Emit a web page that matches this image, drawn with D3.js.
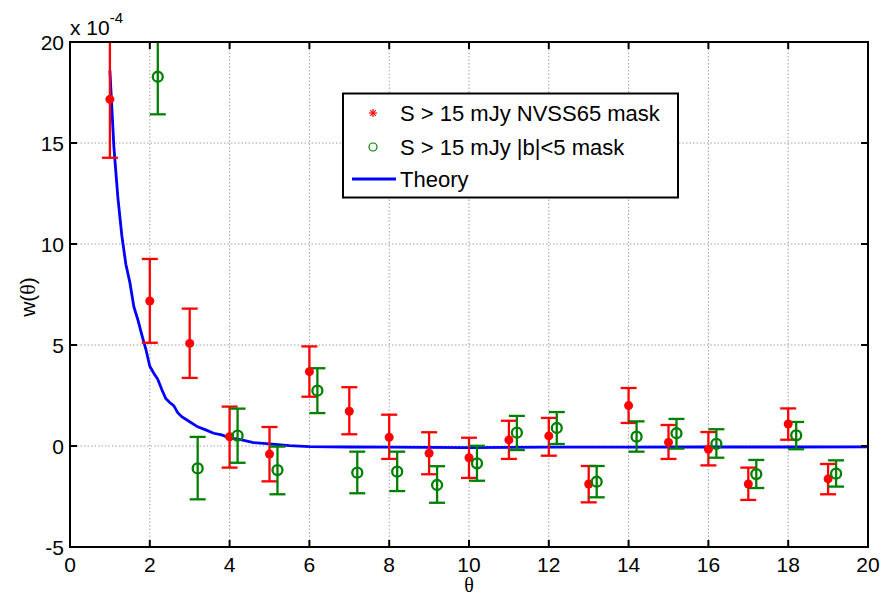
<!DOCTYPE html>
<html><head><meta charset="utf-8">
<script src="https://cdn.jsdelivr.net/npm/d3@7/dist/d3.min.js"></script>
<style>body{margin:0;background:#fff}svg{display:block}</style>
</head><body>
<svg id="c" width="883" height="598"></svg>
<script>
// Data (units of 1e-4)
const xTicks = [0,2,4,6,8,10,12,14,16,18,20];
const yTicks = [-5,0,5,10,15,20];
const redTheta = [1,2,3,4,5,6,7,8,9,10,11,12,13,14,15,16,17,18,19];
const redVal = [17.16,7.18,5.08,0.46,-0.40,3.68,1.72,0.43,-0.36,-0.58,0.30,0.50,-1.88,2.00,0.18,-0.16,-1.88,1.09,-1.63];
const redLo  = [14.27,5.11,3.37,-1.07,-1.75,2.44,0.58,-0.64,-1.40,-1.58,-0.64,-0.48,-2.79,1.14,-0.64,-0.96,-2.67,0.31,-2.39];
const redHi  = [20.05,9.26,6.80,1.95,0.94,4.93,2.91,1.55,0.68,0.41,1.25,1.39,-0.99,2.87,1.04,0.69,-1.07,1.86,-0.89];
const greenTheta = [2.2,3.2,4.2,5.2,6.2,7.2,8.2,9.2,10.2,11.2,12.2,13.2,14.2,15.2,16.2,17.2,18.2,19.2];
const greenVal = [18.28,-1.11,0.51,-1.19,2.74,-1.32,-1.27,-1.93,-0.86,0.66,0.89,-1.77,0.46,0.63,0.11,-1.39,0.53,-1.37];
const greenLo  = [16.42,-2.64,-0.83,-2.39,1.63,-2.34,-2.23,-2.81,-1.72,-0.20,0.10,-2.54,-0.28,-0.13,-0.58,-2.08,-0.16,-2.01];
const greenHi  = [20.14,0.45,1.85,-0.03,3.85,-0.28,-0.28,-1.00,0.01,1.49,1.68,-0.99,1.22,1.34,0.83,-0.69,1.19,-0.71];
const theoryTheta = [1.0,1.1,1.2,1.3,1.4,1.5,1.6,1.7,1.8,1.9,2.0,2.1,2.2,2.3,2.4,2.5,2.6,2.7,2.8,3.0,3.2,3.4,3.6,3.8,4.0,4.3,4.6,5.0,5.5,6,7,8,9,10,12,14,16,18,20];
const theoryVal = [18.6,14.8,12.3,10.4,9.0,8.1,6.9,6.25,5.5,4.8,3.95,3.6,3.3,2.8,2.35,2.15,2.0,1.65,1.45,1.2,0.95,0.8,0.63,0.55,0.4,0.3,0.17,0.1,0.02,-0.03,-0.05,-0.06,-0.07,-0.08,-0.06,-0.06,-0.05,-0.05,-0.04];
const legendLabels = ["S > 15 mJy NVSS65 mask","S > 15 mJy |b|<5 mask","Theory"];

const RED="#ff0000", GREEN="#008000", BLUE="#0000ff";
const svg = d3.select("#c");
const L=70, R=868, T=42, B=547;
const x = d3.scaleLinear().domain([0,20]).range([L,R]);
const y = d3.scaleLinear().domain([-5,20]).range([B,T]);
const font = "'Liberation Sans', Arial, sans-serif";

// grid
const g = svg.append("g");
g.selectAll(".gx").data(xTicks.slice(1,-1)).enter().append("line")
  .attr("x1",d=>x(d)).attr("x2",d=>x(d)).attr("y1",T).attr("y2",B)
  .attr("stroke","#a0a0a0").attr("stroke-width",1).attr("stroke-dasharray","1.5,2");
g.selectAll(".gy").data(yTicks.slice(1,-1)).enter().append("line")
  .attr("y1",d=>y(d)).attr("y2",d=>y(d)).attr("x1",L).attr("x2",R)
  .attr("stroke","#a0a0a0").attr("stroke-width",1).attr("stroke-dasharray","1.5,2");

svg.append("clipPath").attr("id","clip").append("rect")
  .attr("x",L).attr("y",T).attr("width",R-L).attr("height",B-T);
const plot = svg.append("g").attr("clip-path","url(#clip)");

// theory line
plot.append("path").datum(theoryTheta.map((t,i)=>[t,theoryVal[i]]))
  .attr("d",d3.line().x(d=>x(d[0])).y(d=>y(d[1])))
  .attr("fill","none").attr("stroke",BLUE).attr("stroke-width",2.8);

function errBars(th, val, lo, hi, color){
  const gg = plot.append("g").attr("stroke",color).attr("stroke-width",2.3).attr("fill","none");
  th.forEach((t,i)=>{
    gg.append("line").attr("x1",x(t)).attr("x2",x(t)).attr("y1",y(lo[i])).attr("y2",y(hi[i]));
    gg.append("line").attr("x1",x(t)-8).attr("x2",x(t)+8).attr("y1",y(lo[i])).attr("y2",y(lo[i]));
    gg.append("line").attr("x1",x(t)-8).attr("x2",x(t)+8).attr("y1",y(hi[i])).attr("y2",y(hi[i]));
  });
}
errBars(redTheta, redVal, redLo, redHi, RED);
errBars(greenTheta, greenVal, greenLo, greenHi, GREEN);
plot.selectAll(".rp").data(redTheta).enter().append("circle")
  .attr("cx",d=>x(d)).attr("cy",(d,i)=>y(redVal[i])).attr("r",4.5).attr("fill",RED);
plot.selectAll(".gp").data(greenTheta).enter().append("circle")
  .attr("cx",d=>x(d)).attr("cy",(d,i)=>y(greenVal[i])).attr("r",5).attr("fill","none")
  .attr("stroke",GREEN).attr("stroke-width",2.3);

// axes box
const ax = svg.append("g");
ax.append("rect").attr("x",L).attr("y",T).attr("width",R-L).attr("height",B-T)
  .attr("fill","none").attr("stroke","#000").attr("stroke-width",2);
const tl=7;
xTicks.forEach(d=>{
  ax.append("line").attr("x1",x(d)).attr("x2",x(d)).attr("y1",B).attr("y2",B-tl).attr("stroke","#000").attr("stroke-width",2);
  ax.append("line").attr("x1",x(d)).attr("x2",x(d)).attr("y1",T).attr("y2",T+tl).attr("stroke","#000").attr("stroke-width",2);
  ax.append("text").attr("x",x(d)).attr("y",B+25).attr("text-anchor","middle")
    .attr("font-family",font).attr("font-size",21).text(d);
});
yTicks.forEach(d=>{
  ax.append("line").attr("x1",L).attr("x2",L+tl).attr("y1",y(d)).attr("y2",y(d)).attr("stroke","#000").attr("stroke-width",2);
  ax.append("line").attr("x1",R).attr("x2",R-tl).attr("y1",y(d)).attr("y2",y(d)).attr("stroke","#000").attr("stroke-width",2);
  ax.append("text").attr("x",L-6).attr("y",y(d)+7.5).attr("text-anchor","end")
    .attr("font-family",font).attr("font-size",21).text(d);
});

// exponent label
const ex = svg.append("text").attr("x",L).attr("y",35).attr("font-family",font).attr("font-size",21);
ex.append("tspan").text("x 10");
ex.append("tspan").attr("dy",-12).attr("font-size",15).text("-4");

// axis labels
svg.append("text").attr("x",x(10)).attr("y",592).attr("text-anchor","middle")
  .attr("font-family","'Liberation Serif', serif").attr("font-size",20).text("θ");
const yl = svg.append("text").attr("transform","translate(35,297) rotate(-90)")
  .attr("text-anchor","middle").attr("font-family",font).attr("font-size",21);
yl.append("tspan").text("w(");
yl.append("tspan").attr("font-family","'Liberation Serif', serif").attr("font-size",22).text("θ");
yl.append("tspan").text(")");

// legend
const lg = svg.append("g");
lg.append("rect").attr("x",343).attr("y",93.5).attr("width",335).attr("height",104)
  .attr("fill","#fff").attr("stroke","#000").attr("stroke-width",2);
const rows=[113,147,179];
// asterisk
const ag = lg.append("g").attr("stroke",RED).attr("stroke-width",1.2);
[0,45,90,135].forEach(a=>{
  const r=4, rad=a*Math.PI/180;
  ag.append("line").attr("x1",373-r*Math.cos(rad)).attr("x2",373+r*Math.cos(rad))
    .attr("y1",rows[0]-r*Math.sin(rad)).attr("y2",rows[0]+r*Math.sin(rad));
});
lg.append("circle").attr("cx",373).attr("cy",rows[1]).attr("r",4).attr("fill","none")
  .attr("stroke",GREEN).attr("stroke-width",1.2);
lg.append("line").attr("x1",352).attr("x2",396).attr("y1",rows[2]).attr("y2",rows[2])
  .attr("stroke",BLUE).attr("stroke-width",2.8);
legendLabels.forEach((t,i)=>{
  lg.append("text").attr("x",400).attr("y",rows[i]+8).attr("font-family",font)
    .attr("font-size",22).text(t);
});
</script>
</body></html>
